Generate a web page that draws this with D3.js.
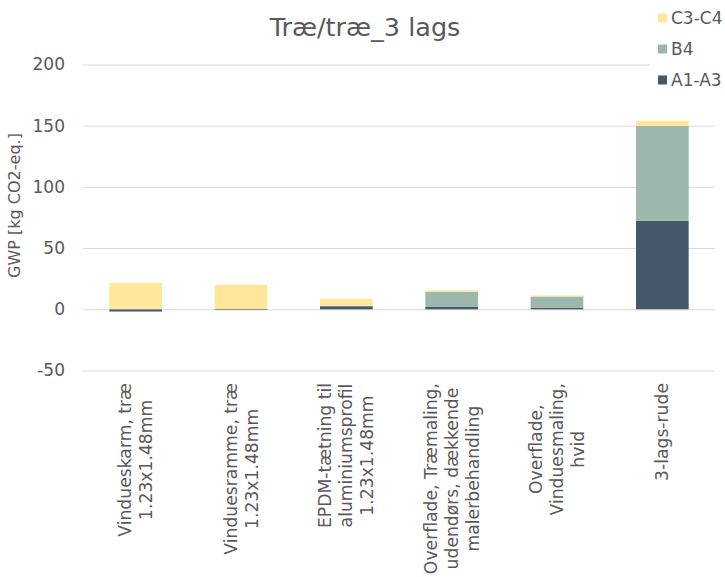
<!DOCTYPE html>
<html>
<head>
<meta charset="utf-8">
<script src="https://cdn.jsdelivr.net/npm/d3@7"></script>
<style>
  html, body { margin: 0; padding: 0; background: #fff; }
  svg { display: block; font-family: "DejaVu Sans", Verdana, sans-serif; }
</style>
</head>
<body>
<svg id="chart" width="725" height="577"></svg>
<script>
// Category labels (line breaks as displayed under the axis)
const categories = [
  ["Vindueskarm, træ", "1.23x1.48mm"],
  ["Vinduesramme, træ", "1.23x1.48mm"],
  ["EPDM-tætning til", "aluminiumsprofil", "1.23x1.48mm"],
  ["Overflade, Træmaling,", "udendørs, dækkende", "malerbehandling"],
  ["Overflade,", "Vinduesmaling,", "hvid"],
  ["3-lags-rude"]
];
const seriesNames = ["A1-A3", "B4", "C3-C4"];
const seriesColors = ["#445869", "#9CB8AD", "#FFE699"];
// GWP per life-cycle stage [kg CO2-eq.]
const valuesA1A3 = [-1.8, -0.6, 2.5, 1.9, 1.2, 72.2];
const valuesB4   = [0.2, 0.1, 0.5, 12.5, 9.2, 77.6];
const valuesC3C4 = [21.4, 19.9, 5.6, 1.2, 0.9, 4.1];
const yTicks = [-50, 0, 50, 100, 150, 200];
const title = "Træ/træ_3 lags";
const yTitle = "GWP [kg CO2-eq.]";

const svg = d3.select("#chart");
const textColor = "#595959";
const gridColor = "#D9D9D9";
const fontSize = 17;

const plot = { left: 83, right: 715, top: 64.5, bottom: 370.5 };

const rows = categories.map((c, i) => ({
  key: i,
  "A1-A3": valuesA1A3[i],
  "B4": valuesB4[i],
  "C3-C4": valuesC3C4[i]
}));

const x = d3.scaleBand()
  .domain(d3.range(categories.length))
  .range([plot.left, plot.right])
  .paddingInner(0.5)
  .paddingOuter(0.25);

const y = d3.scaleLinear()
  .domain([-50, 200])
  .range([plot.bottom, plot.top]);

// Horizontal gridlines and tick labels (plain hyphen for negatives)
const yAxis = d3.axisLeft(y)
  .tickValues(yTicks)
  .tickSize(-(plot.right - plot.left))
  .tickPadding(18)
  .tickFormat(d => String(d));

const gAxis = svg.append("g")
  .attr("transform", `translate(${plot.left},0)`)
  .call(yAxis);
gAxis.select(".domain").remove();
gAxis.selectAll(".tick line").attr("stroke", gridColor).attr("stroke-width", 1);
gAxis.selectAll(".tick text")
  .attr("fill", textColor)
  .style("font-size", fontSize + "px")
  .style("font-family", "'DejaVu Sans', Verdana, sans-serif");

// Stacked columns (negative values stack below zero)
const stack = d3.stack()
  .keys(seriesNames)
  .offset(d3.stackOffsetDiverging);
const stacked = stack(rows);

svg.append("g")
  .selectAll("g")
  .data(stacked)
  .join("g")
  .attr("fill", (d, i) => seriesColors[i])
  .selectAll("rect")
  .data(d => d)
  .join("rect")
  .attr("x", d => x(d.data.key))
  .attr("width", x.bandwidth())
  .attr("y", d => y(Math.max(d[0], d[1])))
  .attr("height", d => Math.abs(y(d[0]) - y(d[1])));

// Category labels, rotated and centred per line
const lineGap = 21;
const labelTop = 383;
const labelG = svg.append("g");
categories.forEach((lines, i) => {
  const cx = x(i) + x.bandwidth() / 2;
  const t = labelG.append("text")
    .attr("transform", `translate(${cx},0) rotate(-90)`)
    .attr("text-anchor", "middle")
    .attr("fill", textColor)
    .style("font-size", "17.2px");
  const spans = lines.map((ln, j) =>
    t.append("tspan")
      .attr("y", (j - (lines.length - 1) / 2) * lineGap)
      .attr("dy", "0.35em")
      .text(ln)
  );
  const maxLen = d3.max(spans, s => s.node().getComputedTextLength());
  spans.forEach(s => s.attr("x", -(labelTop + maxLen / 2)));
});

// Y-axis title
svg.append("text")
  .attr("transform", `translate(20,${(plot.top + plot.bottom) / 2 - 12}) rotate(-90)`)
  .attr("text-anchor", "middle")
  .attr("fill", textColor)
  .style("font-size", "16px")
  .text(yTitle);

// Chart title
svg.append("text")
  .attr("x", 365)
  .attr("y", 36)
  .attr("text-anchor", "middle")
  .attr("fill", textColor)
  .style("font-size", "25.5px")
  .text(title);

// Legend (top right, over a white box)
const legend = svg.append("g");
legend.append("rect")
  .attr("x", 650).attr("y", 0)
  .attr("width", 75).attr("height", 96)
  .attr("fill", "#fff");
const legendOrder = seriesNames.slice().reverse();
const legendY = [18, 49, 80];
legendOrder.forEach((name, k) => {
  const idx = seriesNames.indexOf(name);
  legend.append("rect")
    .attr("x", 658).attr("y", legendY[k] - 4.5)
    .attr("width", 9).attr("height", 9)
    .attr("fill", seriesColors[idx]);
  legend.append("text")
    .attr("x", 671).attr("y", legendY[k])
    .attr("dy", "0.35em")
    .attr("fill", textColor)
    .style("font-size", fontSize + "px")
    .text(name);
});
</script>
</body>
</html>
